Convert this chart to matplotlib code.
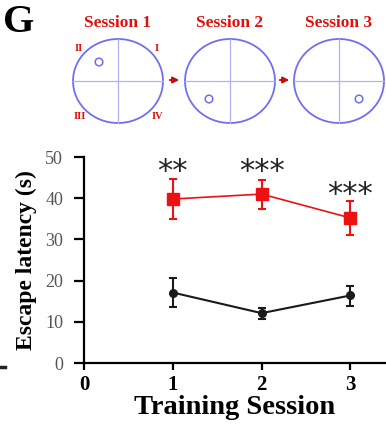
import matplotlib.pyplot as plt
from matplotlib.patches import Ellipse, Circle

# Daten
sessions = [1, 2, 3]
red_mean = [39.8, 41.0, 35.2]
red_err_lo = [4.8, 3.5, 4.1]
red_err_hi = [4.8, 3.4, 4.0]
black_mean = [17.1, 12.1, 16.4]
black_err_lo = [3.4, 1.3, 2.5]
black_err_hi = [3.5, 1.2, 2.4]
stars = ['**', '***', '***']
star_y = [46.6, 46.6, 41.0]
session_titles = ['Session 1', 'Session 2', 'Session 3']
quadrants = ['II', 'I', 'III', 'IV']

plt.rcParams['font.family'] = 'Liberation Serif'

fig = plt.figure(figsize=(3.86, 4.25), dpi=100)

# Schema oben (Pixelkoordinaten)
top = fig.add_axes([0, 0, 1, 1])
top.set_xlim(0, 386)
top.set_ylim(425, 0)
top.axis('off')

top.text(3, 22, 'G', fontsize=29, fontweight='bold', va='center', ha='left')

blue = '#6f6ff0'
centres = [118, 230, 339]
pos_small = [(99, 62), (209, 99), (359, 99)]
for cx, title, (sx, sy) in zip(centres, session_titles, pos_small):
    top.add_patch(Ellipse((cx, 81), 90, 84, fill=False, ec=blue, lw=1.3))
    top.plot([cx - 45, cx + 45], [81, 81], color='#b0b0f5', lw=0.9)
    top.plot([cx, cx], [39, 123], color='#b0b0f5', lw=0.9)
    top.add_patch(Circle((sx, sy), 3.8, fill=False, ec=blue, lw=1.1))
    top.text(cx, 23, title, color='#e01010', fontsize=12.5, fontweight='bold',
             ha='center', va='center')

for q, (qx, qy) in zip(quadrants, [(79, 48), (157, 48), (80, 116), (157, 116)]):
    top.text(qx, qy, q, color='#e01010', fontsize=7.5, fontweight='bold',
             ha='center', va='center')

for ax0 in [167, 277]:
    top.annotate('', xy=(ax0 + 15, 80), xytext=(ax0, 80),
                 arrowprops=dict(arrowstyle='-|>', color='#c01010', lw=1.4,
                                 mutation_scale=9))

top.plot([0, 5], [367, 367], color='#222222', lw=2.5)

# Diagramm
ax = fig.add_axes([84 / 386, 62 / 425, 302 / 386, 206 / 425])
ax.errorbar(sessions, red_mean, yerr=[red_err_lo, red_err_hi], color='#ee1111',
            marker='s', markersize=8, lw=1.2, capsize=3, capthick=1.5, elinewidth=1.5)
ax.errorbar(sessions, black_mean, yerr=[black_err_lo, black_err_hi], color='#1a1a1a',
            marker='o', markersize=5.5, lw=1.5, capsize=3, capthick=1.5, elinewidth=1.5)
for x, s, y in zip(sessions, stars, star_y):
    ax.text(x, y, s, fontsize=22, ha='center', va='center',
            color='#222222', family='DejaVu Sans')

ax.set_xlim(0, 3.4)
ax.set_ylim(0, 50)
ax.set_xticks([0, 1, 2, 3])
ax.set_yticks([0, 10, 20, 30, 40, 50])
for lab in ax.get_xticklabels():
    lab.set_fontweight('bold')
ax.tick_params(axis='x', labelsize=15, length=5, width=1.6, pad=4)
ax.tick_params(axis='y', labelsize=13, length=7, width=1.6, pad=8,
               labelcolor='#555555')
ax.spines['top'].set_visible(False)
ax.spines['right'].set_visible(False)
ax.spines['left'].set_linewidth(1.6)
ax.spines['bottom'].set_linewidth(1.6)
ax.set_ylabel('Escape latency (s)', fontsize=17, fontweight='bold', labelpad=6)
ax.set_xlabel('Training Session', fontsize=20.5, fontweight='bold', labelpad=0)

fig.savefig('out.png', dpi=100)
